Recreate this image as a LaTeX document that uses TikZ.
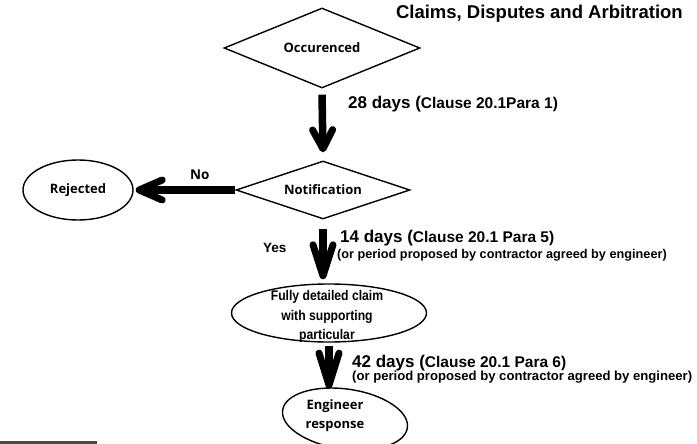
\documentclass[tikz,border=0pt]{standalone}
\usepackage{fontspec}
\setmainfont{Liberation Sans}
\newfontfamily\osans{Open Sans}
\newfontfamily\narrowsans{Liberation Sans}[FakeStretch=0.87]
\usetikzlibrary{shapes.geometric,arrows.meta}
\newcommand\fsz[2]{\fontsize{#1}{#2}\selectfont}

\tikzset{
  shapeline/.style={draw, line width=1.4pt},
  decision/.style={shapeline, diamond, aspect=3, inner sep=1pt,
    font=\osans\bfseries\fsz{13}{15}},
  terminal/.style={shapeline, ellipse, inner sep=0pt,
    font=\osans\bfseries\fsz{13}{19}},
  fat/.style={line width=7.5pt,
    -{Straight Barb[length=#1, width=20pt, line width=7pt, round]}},
  fat/.default=19pt,
  lbl/.style={anchor=base west, inner sep=0pt, font=\bfseries},
}

\begin{document}
\begin{tikzpicture}[x=1pt, y=-1pt]
\useasboundingbox (0,0) rectangle (697,444);

% title
\node[anchor=base east, inner sep=0pt, font=\bfseries\fsz{18.5}{22}] (title)
  at (683,18.3) {Claims, Disputes and Arbitration};

% flow nodes
\node[decision, minimum width=196pt, minimum height=80pt] (occ) at (322,48) {Occurenced};
\node[decision, minimum width=174pt, minimum height=58pt] (notif) at (323,190) {Notification};
\node[terminal, minimum width=110pt, minimum height=60pt] (rej) at (78,190) {Rejected};
\node[shapeline, ellipse, minimum width=195pt, minimum height=58pt] (claim) at (329,313) {};
\node[inner sep=0pt, align=center, font=\narrowsans\bfseries\fsz{14}{19.6}] (claimtxt)
  at (327,316.5) {Fully detailed claim\\with supporting\\particular};
\node[shapeline, ellipse, minimum width=126pt, minimum height=60pt, rotate=-8] (eng) at (345,419) {};
\node[inner sep=0pt, align=center, font=\osans\bfseries\fsz{13}{19}] (engtxt)
  at (335,415.5) {Engineer\\response};

% connectors
\draw[fat] ([yshift=-6pt]occ.south) -- ([yshift=8pt]notif.north);
\draw[fat=23pt] (notif.west) -- ([xshift=2pt]rej.east);
\draw[fat=31pt] ([yshift=-9pt]notif.south) -- ([yshift=4pt]notif.south |- claim.north);
\draw[fat=32pt] ([yshift=-3pt]claim.south) -- (claim.south |- eng.north);

% connector labels
\node[lbl] (l28) at (348,109)
  {{\fsz{17}{20}28 days (}{\fsz{15.5}{18}Clause 20.1Para 1)}};
\node[lbl, font=\osans\bfseries\fsz{13.5}{15}] (lno) at (190,179) {No};
\node[lbl, font=\bfseries\fsz{13.5}{16}] (lyes) at (263,252) {Yes};
\node[lbl] (l14) at (340,242)
  {{\fsz{17}{20}14 days (}{\fsz{15.5}{18}Clause 20.1 Para 5)}};
\node[lbl, font=\bfseries\fsz{12.7}{15}] (l14b) at (337,258)
  {(or period proposed by contractor agreed by engineer)};
\node[lbl] (l42) at (352,367)
  {{\fsz{17}{20}42 days (}{\fsz{15.5}{18}Clause 20.1 Para 6)}};
\node[lbl, font=\bfseries\fsz{13.1}{15}] (l42b) at (352,380.5)
  {(or period proposed by contractor agreed by engineer)};

% dark strip at the lower left edge
\fill[black!72] (0,441) rectangle (97,444);
\end{tikzpicture}
\end{document}
